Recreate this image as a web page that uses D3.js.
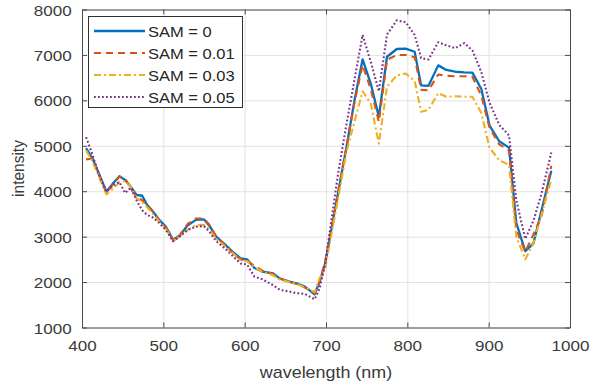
<!DOCTYPE html>
<html>
<head>
<meta charset="utf-8">
<script src="https://cdn.jsdelivr.net/npm/d3@7"></script>
<style>
  html, body { margin: 0; padding: 0; background: #fff; }
  svg { display: block; }
  text { font-family: "Liberation Sans", Arial, Helvetica, sans-serif; }
</style>
</head>
<body>
<svg id="chart" width="591" height="390"></svg>
<script>
// ---- data ----
const wavelength = [405, 413, 420, 430, 438, 446, 453, 460, 467, 474,
  480, 487, 495, 503, 512, 520, 530, 540, 550, 557,
  565, 575, 585, 595, 603, 612, 622, 635, 643, 655,
  664, 674, 686, 692, 699, 705, 715, 725, 735,
  745, 755, 765, 775, 787, 798, 809, 817, 826, 838,
  848, 859, 870, 880, 891, 901, 913, 925, 934, 945,
  955, 965, 977];

const sam0 = [4950, 4720, 4420, 3990, 4170, 4330, 4250, 4100, 3920, 3900,
  3700, 3560, 3370, 3220, 2930, 3020, 3250, 3370, 3380, 3230,
  3000, 2840, 2670, 2520, 2500, 2310, 2230, 2190, 2080, 2010,
  1970, 1900, 1730, 2000, 2410, 3000, 3980, 4950, 6000,
  6900, 6370, 5640, 6960, 7130, 7140, 7070, 6330, 6320, 6770,
  6670, 6630, 6615, 6610, 6250, 5450, 5100, 4960, 3300, 2680,
  2850, 3580, 4450];

const sam001 = [4700, 4720, 4400, 3960, 4150, 4320, 4280, 4050, 3880, 3800,
  3700, 3550, 3350, 3200, 2930, 3030, 3280, 3400, 3400, 3250,
  3000, 2820, 2650, 2500, 2470, 2350, 2250, 2180, 2080, 2000,
  1960, 1880, 1750, 2000, 2450, 3000, 4000, 4950, 5950,
  6780, 6250, 5530, 6890, 7000, 7000, 6950, 6230, 6220, 6570,
  6540, 6530, 6530, 6520, 6100, 5400, 5030, 4900, 3150, 2670,
  3050, 3450, 4560];

const sam003 = [4900, 4650, 4350, 3930, 4050, 4200, 4220, 4100, 3850, 3750,
  3650, 3500, 3330, 3180, 2900, 3000, 3150, 3250, 3260, 3150,
  2950, 2800, 2640, 2480, 2460, 2330, 2220, 2150, 2060, 2000,
  1960, 1880, 1780, 2080, 2300, 2900, 3850, 4850, 5530,
  6200, 5930, 5050, 6300, 6550, 6590, 6430, 5750, 5790, 6160,
  6080, 6090, 6080, 6080, 5720, 4960, 4680, 4580, 3000, 2500,
  2850, 3480, 4260];

const sam005 = [5190, 4800, 4400, 3990, 4130, 4200, 3960, 4080, 3800, 3580,
  3480, 3420, 3300, 3150, 2900, 3000, 3150, 3220, 3230, 3100,
  2900, 2750, 2580, 2410, 2390, 2120, 2060, 1930, 1830, 1790,
  1755, 1740, 1620, 1850, 2400, 3150, 4400, 5460, 6450,
  7440, 6850, 6200, 7450, 7760, 7720, 7440, 6930, 6900, 7280,
  7210, 7150, 7260, 7100, 6620, 5950, 5460, 5230, 3800, 2950,
  3350, 3950, 4850];

const seriesNames = ["SAM = 0", "SAM = 0.01", "SAM = 0.03", "SAM = 0.05"];
const seriesValues = [sam0, sam001, sam003, sam005];
const seriesColors = ["#0072BD", "#D95319", "#EDB120", "#7E2F8E"];
const seriesDash = [null, "7,5", "7,3,2,3", "1.8,2.2"];

const xTicks = [400, 500, 600, 700, 800, 900, 1000];
const yTicks = [1000, 2000, 3000, 4000, 5000, 6000, 7000, 8000];
const xLabel = "wavelength (nm)";
const yLabel = "intensity";

// ---- layout ----
const L = 82, R = 570, T = 9.5, B = 327.5;
const svg = d3.select("#chart");
const x = d3.scaleLinear().domain([400, 1000]).range([L, R]);
const y = d3.scaleLinear().domain([1000, 8000]).range([B, T]);

const axisColor = "#4a4a4a";
const textColor = "#3a3a3a";
const gridColor = "#e2e2e2";

// grid
svg.append("g").attr("transform", `translate(0,${B})`)
  .call(d3.axisBottom(x).tickValues(xTicks).tickSize(-(B - T)).tickFormat(""))
  .call(g => g.select(".domain").remove())
  .call(g => g.selectAll("line").attr("stroke", gridColor).attr("stroke-width", 1));
svg.append("g").attr("transform", `translate(${L},0)`)
  .call(d3.axisLeft(y).tickValues(yTicks).tickSize(-(R - L)).tickFormat(""))
  .call(g => g.select(".domain").remove())
  .call(g => g.selectAll("line").attr("stroke", gridColor).attr("stroke-width", 1));

// lines
const line = d3.line().x((d, i) => x(wavelength[i])).y(d => y(d));
seriesValues.forEach((vals, k) => {
  svg.append("path")
    .datum(vals)
    .attr("d", line)
    .attr("fill", "none")
    .attr("stroke", seriesColors[k])
    .attr("stroke-width", k === 0 ? 2.3 : 2.1)
    .attr("stroke-dasharray", seriesDash[k])
    .attr("stroke-linejoin", "round");
});

// axes frame with inward ticks
function styleAxis(g) {
  g.select(".domain").attr("stroke", axisColor).attr("stroke-width", 1);
  g.selectAll(".tick line").attr("stroke", axisColor).attr("stroke-width", 1);
}
const xb = svg.append("g").attr("transform", `translate(0,${B})`)
  .call(d3.axisBottom(x).tickValues(xTicks).tickSizeInner(-5).tickSizeOuter(0).tickFormat(d3.format("d")))
  .call(styleAxis);
xb.selectAll(".tick text")
  .attr("y", 24).attr("dy", 0)
  .attr("fill", textColor)
  .style("font-size", "15.5px")
  .attr("transform", "scale(1.1,1)");

svg.append("g").attr("transform", `translate(0,${T})`)
  .call(d3.axisTop(x).tickValues(xTicks).tickSizeInner(-5).tickSizeOuter(0).tickFormat(""))
  .call(styleAxis);

const yl = svg.append("g").attr("transform", `translate(${L},0)`)
  .call(d3.axisLeft(y).tickValues(yTicks).tickSizeInner(-5).tickSizeOuter(0).tickFormat(d3.format("d")))
  .call(styleAxis);
yl.selectAll(".tick text")
  .attr("x", -9.4).attr("dy", "0.36em")
  .attr("fill", textColor)
  .style("font-size", "15.5px")
  .attr("transform", "scale(1.1,1)");

svg.append("g").attr("transform", `translate(${R},0)`)
  .call(d3.axisRight(y).tickValues(yTicks).tickSizeInner(-5).tickSizeOuter(0).tickFormat(""))
  .call(styleAxis);

// axis labels
svg.append("text")
  .attr("transform", `translate(${(L + R) / 2},378) scale(1.12,1)`)
  .attr("text-anchor", "middle")
  .attr("fill", textColor)
  .style("font-size", "16px")
  .text(xLabel);
svg.append("text")
  .attr("transform", `translate(24,${(T + B) / 2}) rotate(-90) scale(1,1.1)`)
  .attr("text-anchor", "middle")
  .attr("fill", textColor)
  .style("font-size", "15.5px")
  .text(yLabel);

// legend
const lg = svg.append("g");
lg.append("rect")
  .attr("x", 88.5).attr("y", 16.5).attr("width", 154).attr("height", 91)
  .attr("fill", "#fff").attr("stroke", "#303030").attr("stroke-width", 1);
const rowY = [31, 53, 75, 97];
seriesNames.forEach((name, k) => {
  lg.append("line")
    .attr("x1", 94).attr("x2", 145)
    .attr("y1", rowY[k]).attr("y2", rowY[k])
    .attr("stroke", seriesColors[k])
    .attr("stroke-width", k === 0 ? 2.3 : 2.1)
    .attr("stroke-dasharray", seriesDash[k]);
  lg.append("text")
    .attr("transform", `translate(148,${rowY[k] + 5.5}) scale(1.1,1)`)
    .attr("fill", "#262626")
    .style("font-size", "15px")
    .text(name);
});
</script>
</body>
</html>
